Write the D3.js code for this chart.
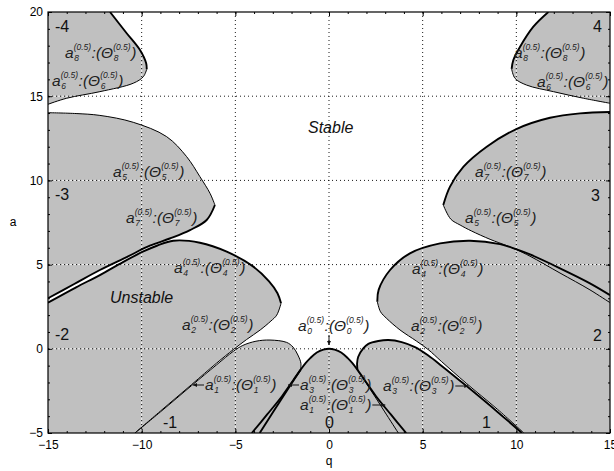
<!DOCTYPE html>
<html>
<head>
<meta charset="utf-8">
<script src="https://cdn.jsdelivr.net/npm/d3@7"></script>
<style>
  body { margin: 0; background: #fff; }
  text { font-family: "Liberation Sans", Arial, sans-serif; }
</style>
</head>
<body>
<svg id="chart" width="614" height="471"></svg>
<script>
// axis ticks
const qTicks = [-15, -10, -5, 0, 5, 10, 15];
const aTicks = [-5, 0, 5, 10, 15, 20];
const qGrid = [-10, -5, 0, 5, 10];
const aGrid = [0, 5, 10, 15];

// boundary curves, [q, a]
// tongue -4 / 4
const a8Left = [[-11.69, 20], [-10.8, 18.74], [-10.09, 17.74], [-9.76, 16.95], [-9.73, 16.6]];
const a6Left = [[-9.73, 16.6], [-9.91, 16.16], [-10.45, 15.77], [-12.23, 15.27], [-14.0, 14.88], [-15, 14.52]];
const a8Right = [[11.71, 20], [10.91, 19.13], [10.2, 17.94], [9.84, 17.15], [9.75, 16.62]];
const a6Right = [[9.75, 16.62], [9.93, 16.06], [10.55, 15.66], [11.98, 15.27], [13.58, 14.88], [15, 14.58]];
// tongue -3 / 3
const a5Left = [[-15, 14.02], [-13.5, 13.97], [-12.23, 13.86], [-10.45, 13.45], [-8.67, 12.6], [-7.6, 11.41], [-6.89, 10.22], [-6.35, 9.23], [-6.09, 8.54]];
const a7Left = [[-6.09, 8.54], [-6.53, 7.65], [-7.42, 7.05], [-8.5, 6.55], [-9.56, 6.12], [-10.8, 5.45], [-12.23, 4.68], [-13.6, 3.85], [-15, 3.0]];
const a7Right = [[15, 14.06], [13.4, 13.98], [11.8, 13.72], [10.0, 13.05], [8.42, 12.0], [7.17, 10.8], [6.46, 9.63], [6.1, 8.54]];
const a5Right = [[6.1, 8.54], [6.5, 7.7], [7.0, 7.35], [7.6, 7.0], [8.6, 6.5], [9.5, 6.12], [10.02, 5.88], [10.73, 5.5], [12.33, 4.5], [13.93, 3.5], [15, 2.74]];
// tongue -2 / 2
const a4Left = [[-15, 2.74], [-13.5, 3.65], [-12.23, 4.38], [-11, 5.15], [-9.91, 5.78], [-9.19, 6.12], [-8.31, 6.42], [-6.89, 6.3], [-5.46, 5.77], [-4.04, 4.88], [-3.2, 4.0], [-2.75, 3.3], [-2.56, 2.7]];
const a2Left = [[-2.56, 2.7], [-2.79, 2.0], [-3.1, 1.65], [-3.67, 1.12], [-4.4, 0.55], [-5.11, -0.05], [-6.0, -0.85], [-7.33, -2.12], [-9.0, -3.7], [-10.36, -5]];
const a4Right = [[2.58, 2.8], [2.65, 3.5], [3.26, 4.68], [4.32, 5.67], [5.93, 6.26], [7.53, 6.42], [9.13, 6.22], [10.02, 5.9], [10.73, 5.6], [12.33, 4.78], [13.93, 3.89], [15, 3.19]];
const a2Right = [[2.58, 2.8], [2.75, 2.2], [3.08, 1.8], [3.79, 1.12], [4.68, 0.45], [5.3, -0.05], [6.0, -0.75], [7.33, -2.05], [9.0, -3.6], [10.4, -5]];
// tongue -1 / 1
const a1Left = [[-10.36, -5], [-9.0, -3.75], [-7.33, -2.18], [-6.0, -0.95], [-5.11, -0.15], [-4.6, 0.2], [-3.9, 0.45], [-3.15, 0.52], [-2.26, 0.38], [-1.92, 0.1], [-1.66, -0.37], [-1.5, -0.86], [-1.52, -1.25]];
const a3Left = [[-1.52, -1.25], [-2.2, -2.4], [-2.95, -3.7], [-3.7, -5]];
const a3Right = [[1.52, -1.25], [1.5, -0.86], [1.56, -0.47], [1.83, 0.03], [2.1, 0.29], [2.63, 0.46], [3.17, 0.52], [3.88, 0.4], [4.59, 0.1], [5.3, -0.4], [6.0, -1.0], [7.33, -2.2], [9.0, -3.75], [10.3, -5]];
const a1Right = [[1.52, -1.25], [2.2, -2.4], [2.95, -3.7], [3.7, -5]];
// tongue 0
const a0Curve = [[-4.12, -5], [-3.3, -3.9], [-2.5, -2.8], [-1.9, -1.85], [-1.52, -1.25], [-1.25, -0.85], [-1.0, -0.55], [-0.65, -0.22], [-0.3, -0.05], [0, 0],
  [0.3, -0.05], [0.65, -0.22], [1.0, -0.55], [1.25, -0.85], [1.52, -1.25], [1.9, -1.85], [2.5, -2.8], [3.3, -3.9], [4.12, -5]];

const svg = d3.select('#chart');

const x = d3.scaleLinear().domain([-15, 15]).range([48, 610]);
const y = d3.scaleLinear().domain([-5, 20]).range([433, 12]);

const line = d3.line()
  .x(d => x(d[0]))
  .y(d => y(d[1]))
  .curve(d3.curveCatmullRom.alpha(0.5));
const straight = d3.line()
  .x(d => x(d[0]))
  .y(d => y(d[1]));

const rev = arr => arr.slice().reverse();

// join several pieces into one closed outline
function outline(parts) {
  return parts.map((p, i) => {
    const s = p.smooth ? line(p.pts) : straight(p.pts);
    return i === 0 ? s : s.replace(/^M/, 'L');
  }).join('') + 'Z';
}
const S = pts => ({ pts, smooth: true });
const C = pts => ({ pts, smooth: false });

svg.append('defs').append('clipPath').attr('id', 'plot')
  .append('rect')
  .attr('x', x(-15)).attr('y', y(20))
  .attr('width', x(15) - x(-15)).attr('height', y(-5) - y(20));

const plot = svg.append('g').attr('clip-path', 'url(#plot)');

plot.append('rect')
  .attr('x', x(-15)).attr('y', y(20))
  .attr('width', x(15) - x(-15)).attr('height', y(-5) - y(20))
  .attr('fill', '#fff');

// unstable tongues
const tongues = [
  [S(a8Left), S(a6Left), C([[-15, 20]])],
  [S(a8Right), S(a6Right), C([[15, 20]])],
  [S(a5Left), S(a7Left)],
  [S(a7Right), S(a5Right)],
  [S(a4Left), S(a2Left), C([[-15, -5]])],
  [S(rev(a4Right)), S(a2Right), C([[15, -5]])],
  [S(a1Left), S(a3Left)],
  [S(a3Right), S(rev(a1Right))],
  [S(a0Curve)]
];
plot.selectAll('.tongue')
  .data(tongues)
  .enter()
  .append('path')
  .attr('class', 'tongue')
  .attr('d', outline)
  .attr('fill', '#c0c0c0');

// dotted grid
const grid = plot.append('g');
[['#fff', '2,2', 0.8, 2], ['#000', '1,3', 0.9, 0]].forEach(([c, dash, op, off]) => {
  grid.selectAll(null).data(qGrid).enter().append('line')
    .attr('x1', d => x(d)).attr('x2', d => x(d))
    .attr('y1', y(20)).attr('y2', y(-5))
    .attr('stroke', c).attr('stroke-dasharray', dash).attr('stroke-dashoffset', off)
    .attr('stroke-opacity', op).attr('stroke-width', 1);
  grid.selectAll(null).data(aGrid).enter().append('line')
    .attr('y1', d => y(d)).attr('y2', d => y(d))
    .attr('x1', x(-15)).attr('x2', x(15))
    .attr('stroke', c).attr('stroke-dasharray', dash).attr('stroke-dashoffset', off)
    .attr('stroke-opacity', op).attr('stroke-width', 1);
});

// boundary lines
const thick = [a8Left, a8Right, a7Left, a7Right, a4Left, a4Right, a3Left, a3Right, a0Curve];
const thin = [a6Left, a6Right, a5Left, a5Right, a2Left, a2Right, a1Left, a1Right];
plot.selectAll('.thin').data(thin).enter().append('path')
  .attr('class', 'thin').attr('d', line)
  .attr('fill', 'none').attr('stroke', '#000').attr('stroke-width', 1);
plot.selectAll('.thick').data(thick).enter().append('path')
  .attr('class', 'thick').attr('d', line)
  .attr('fill', 'none').attr('stroke', '#000').attr('stroke-width', 1.9);

// axes
function styleAxis(g) {
  g.select('.domain').remove();
  g.selectAll('text').attr('font-size', 12).attr('fill', '#000')
    .attr('font-family', '"Liberation Sans", Arial, sans-serif');
  g.selectAll('line').attr('stroke', '#000');
}
svg.append('g').attr('transform', `translate(0,${y(-5)})`)
  .call(d3.axisBottom(x).tickValues(qTicks).tickSize(-4).tickPadding(7)).call(styleAxis);
svg.append('g').attr('transform', `translate(0,${y(20)})`)
  .call(d3.axisTop(x).tickValues(qTicks).tickSize(-4).tickFormat('')).call(styleAxis);
svg.append('g').attr('transform', `translate(${x(-15)},0)`)
  .call(d3.axisLeft(y).tickValues(aTicks).tickSize(-4).tickPadding(5)).call(styleAxis);
svg.append('g').attr('transform', `translate(${x(15)},0)`)
  .call(d3.axisRight(y).tickValues(aTicks).tickSize(-4).tickFormat('')).call(styleAxis);
// minor ticks
const qMinor = d3.range(-15, 16);
const aMinor = d3.range(-5, 21);
svg.append('g').attr('transform', `translate(0,${y(-5)})`)
  .call(d3.axisBottom(x).tickValues(qMinor).tickSize(-2).tickFormat('')).call(styleAxis);
svg.append('g').attr('transform', `translate(0,${y(20)})`)
  .call(d3.axisTop(x).tickValues(qMinor).tickSize(-2).tickFormat('')).call(styleAxis);
svg.append('g').attr('transform', `translate(${x(-15)},0)`)
  .call(d3.axisLeft(y).tickValues(aMinor).tickSize(-2).tickFormat('')).call(styleAxis);
svg.append('g').attr('transform', `translate(${x(15)},0)`)
  .call(d3.axisRight(y).tickValues(aMinor).tickSize(-2).tickFormat('')).call(styleAxis);

svg.append('rect')
  .attr('x', x(-15)).attr('y', y(20))
  .attr('width', x(15) - x(-15)).attr('height', y(-5) - y(20))
  .attr('fill', 'none').attr('stroke', '#000').attr('stroke-width', 1.2);

svg.append('text').attr('x', x(0)).attr('y', 465).attr('text-anchor', 'middle')
  .attr('font-size', 12).text('q');
svg.append('text').attr('x', 13).attr('y', 226).attr('text-anchor', 'middle')
  .attr('font-size', 12).text('a');

// region numbers
const regionNames = ['-4', '4', '-3', '3', '-2', '2', '-1', '0', '1'];
const regionPos = [[55, 32], [593, 32], [55, 200], [591, 201], [55, 340], [593, 341], [163, 428], [325, 428], [482, 428]];
svg.selectAll('.region').data(regionNames).enter().append('text')
  .attr('class', 'region')
  .attr('x', (d, i) => regionPos[i][0]).attr('y', (d, i) => regionPos[i][1])
  .attr('font-size', 16).attr('fill', '#111').text(d => d);

svg.append('text').attr('x', 308).attr('y', 133).attr('font-size', 16)
  .attr('font-style', 'italic').attr('fill', '#111').text('Stable');
svg.append('text').attr('x', 110).attr('y', 303).attr('font-size', 16)
  .attr('font-style', 'italic').attr('fill', '#111').text('Unstable');

// curve labels  a_n^(0.5):(Θ_n^(0.5))
const labelIdx = ['8', '6', '5', '7', '4', '2', '1', '0', '3', '1', '3', '2', '4', '5', '7', '6', '8'];
const labelPos = [[65, 58], [52, 86], [113, 177], [126, 223], [174, 273], [182, 330], [205, 390], [298, 331], [300, 390],
  [300, 410], [383, 391], [411, 331], [412, 274], [465, 223], [475, 177], [537, 87], [514, 58]];
const labelArrow = ['', '', '', '', '', '', 'left', 'down', 'left', 'right', 'right', '', '', '', '', '', ''];

const big = 15.5, small = 8.5;
function arrowLine(g, x1, y1, x2, y2) {
  g.append('line').attr('x1', x1).attr('y1', y1).attr('x2', x2).attr('y2', y2)
    .attr('stroke', '#111').attr('stroke-width', 1);
  const ang = Math.atan2(y2 - y1, x2 - x1);
  const h = 4, w = 2;
  const p = [[x2, y2],
    [x2 - h * Math.cos(ang) + w * Math.sin(ang), y2 - h * Math.sin(ang) - w * Math.cos(ang)],
    [x2 - h * Math.cos(ang) - w * Math.sin(ang), y2 - h * Math.sin(ang) + w * Math.cos(ang)]];
  g.append('path').attr('d', 'M' + p.join('L') + 'Z').attr('fill', '#111');
}
function putLabel(n, pos, arrow) {
  const g = svg.append('g').attr('fill', '#222').attr('font-style', 'italic');
  const [x0, y0] = pos;
  let cx = x0;
  const piece = (txt, size, px, py) => g.append('text').attr('x', px).attr('y', py)
    .attr('font-size', size).text(txt);
  const widthOf = t => t.node().getComputedTextLength();
  const stack = () => {
    const s1 = piece('(0.5)', small, cx, y0 - 8);
    piece(n, small, cx + 0.5, y0 + 2.5);
    cx += widthOf(s1) + 0.5;
  };
  cx += widthOf(piece('a', big, cx, y0));
  stack();
  cx += widthOf(piece(':(', big, cx, y0));
  cx += widthOf(piece('\u0398', big, cx, y0));
  stack();
  cx += widthOf(piece(')', big, cx, y0));
  if (arrow === 'left') arrowLine(g, x0 - 1, y0 - 5, x0 - 12, y0 - 5);
  if (arrow === 'right') arrowLine(g, cx + 1, y0 - 5, cx + 14, y0 - 5);
  if (arrow === 'down') arrowLine(g, x(0), y0 + 4, x(0), y0 + 14);
}
labelIdx.forEach((n, i) => putLabel(n, labelPos[i], labelArrow[i]));
</script>
</body>
</html>
